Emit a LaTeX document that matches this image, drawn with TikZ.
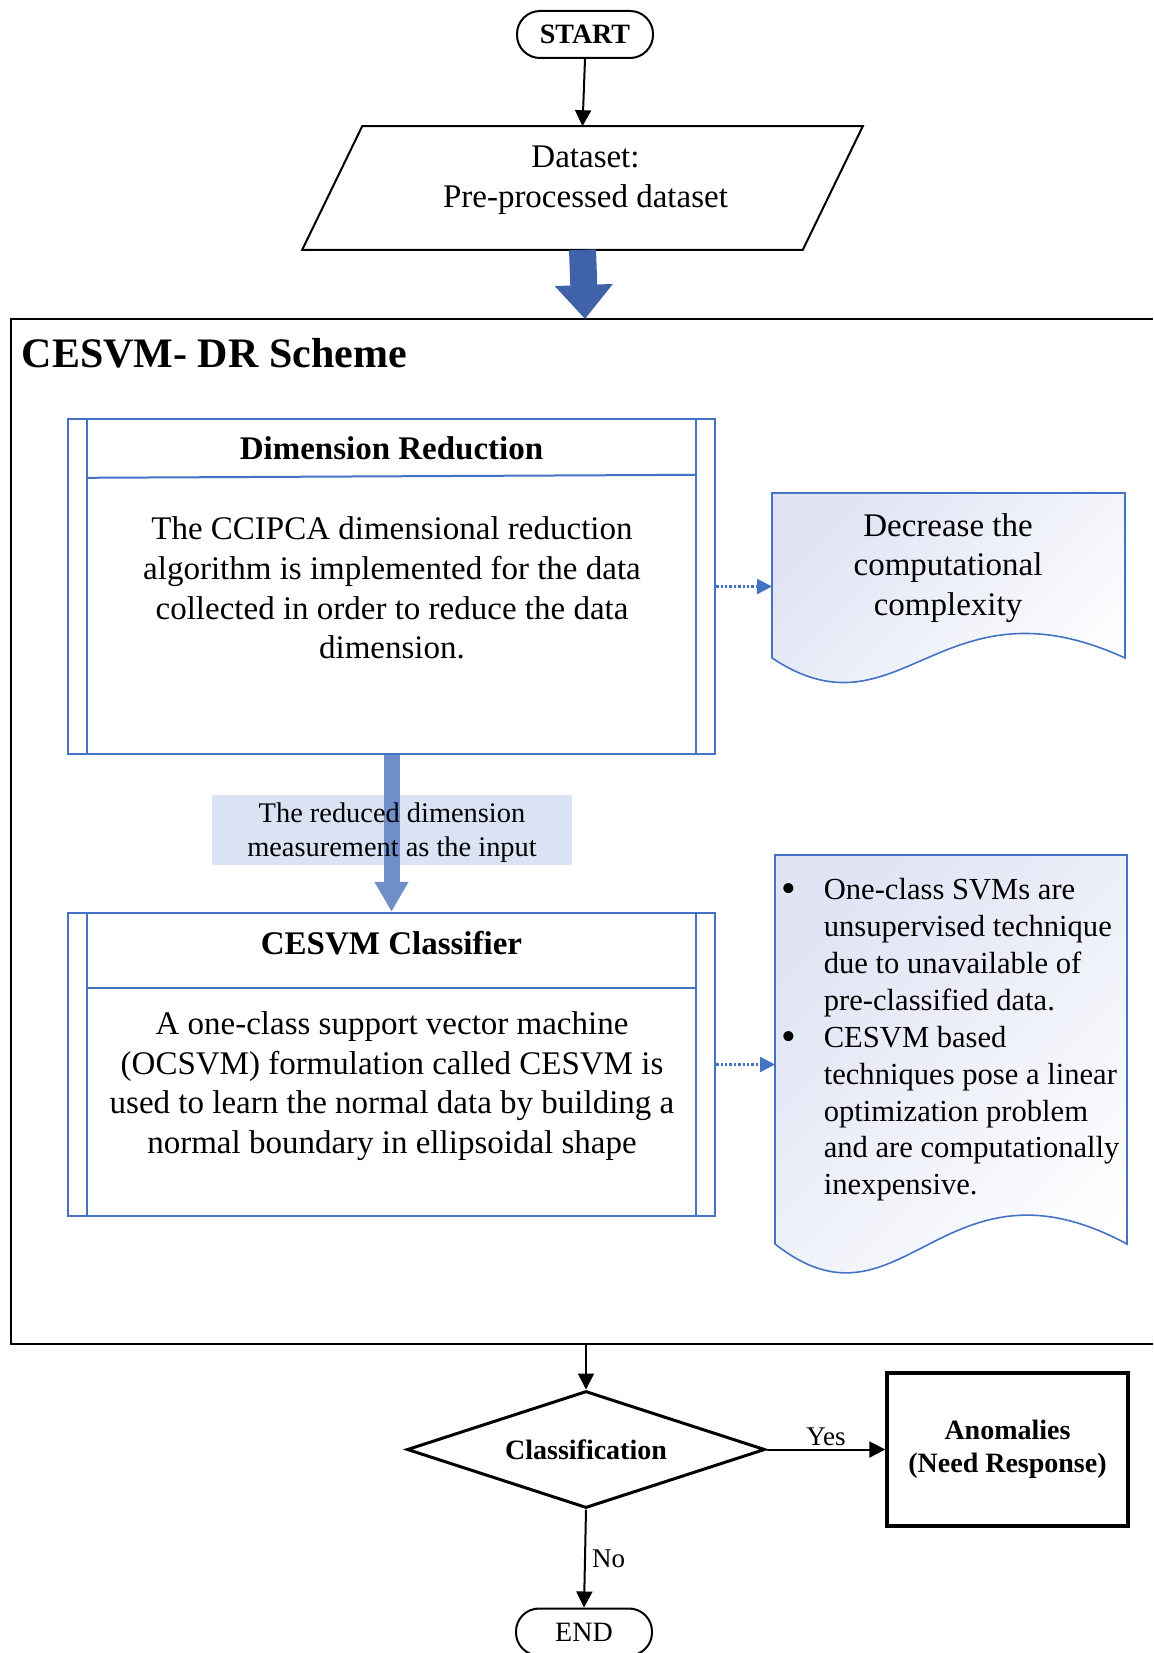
\documentclass[tikz,border=0pt]{standalone}
\usepackage{fontspec}
\setmainfont{Liberation Serif}
\usepackage{tikz}
\usetikzlibrary{shapes, arrows.meta, positioning, calc}
\definecolor{schemeblue}{RGB}{68,114,196}
\definecolor{arrowblue}{RGB}{63,98,171}
\definecolor{softblue}{RGB}{112,143,201}
\definecolor{labelfill}{RGB}{218,227,243}
\definecolor{docshade}{RGB}{224,228,244}
\tikzset{
    startstop/.style={rectangle, rounded corners=11.5pt, draw=black, line width=1pt, minimum width=68pt, minimum height=23.5pt, inner sep=0pt, font=\fontsize{14}{16}\selectfont},
    io/.style={rectangle, minimum width=279.5pt, minimum height=61pt, inner sep=0pt},
    ioline/.style={draw=black, line width=1pt},
    twinbox/.style={rectangle, draw=schemeblue, line width=1.2pt, inner sep=0pt},
    boxline/.style={draw=schemeblue, line width=1pt},
    titletext/.style={font=\bfseries\fontsize{16.5}{19.8}\selectfont},
    bodytext/.style={align=center, font=\fontsize{16.5}{19.8}\selectfont},
    lblbox/.style={rectangle, fill=labelfill, minimum width=180pt, minimum height=35pt, inner sep=0pt},
    lbltext/.style={align=center, inner sep=0pt, font=\fontsize{14.2}{17}\selectfont},
    docshape/.style={draw=schemeblue, line width=0.8pt, top color=docshade, bottom color=white, shading angle=45},
    % Flowchart Styles
    decision/.style={diamond, aspect=3, draw=black, line width=1.5pt, minimum width=179pt, minimum height=58.5pt, inner sep=0pt, font=\bfseries\fontsize{14}{16}\selectfont},
    process/.style={rectangle, draw=black, line width=1.7pt, minimum width=120.5pt, minimum height=76.5pt, align=center, font=\bfseries\fontsize{14}{16.5}\selectfont},
    arrow/.style={draw=black, line width=1pt, -{Triangle[length=8pt, width=8pt]}},
    fatarrow/.style={draw=arrowblue, line width=13.5pt, -{Triangle[length=17pt, width=28pt]}},
    midarrow/.style={draw=softblue, line width=8pt, -{Triangle[length=15pt, width=16pt]}},
    dotarrow/.style={draw=schemeblue, line width=1.2pt, densely dotted, -{Triangle[length=7.5pt, width=7.5pt]}},
    schemeframe/.style={draw=black, line width=1.2pt}
}

\begin{document}
\begin{tikzpicture}[x=0.5pt, y=-0.5pt, thick]
    \useasboundingbox (0,0) rectangle (1153,1653);

    % input
    \node (start) [startstop, font=\bfseries\fontsize{14}{16}\selectfont] at (585,34.5) {START};
    \node (data) [io] at (582.5,188) {};
    \draw [ioline] ($(data.north west)+(60,0)$) -- (data.north east) -- ($(data.south east)+(-60,0)$) -- (data.south west) -- cycle;
    \node (datatxt) [bodytext] at ($(data.center)+(3,-8)$) {Dataset:\\Pre-processed dataset};
    \draw [arrow] (start.south) -- (data.north);

    % scheme frame
    \coordinate (frametop) at (585,319);
    \coordinate (framebot) at (586,1344);
    \draw [schemeframe] (1153,319) -- (11,319) -- (11,1344) -- (1153,1344);
    \draw [fatarrow] (data.south) -- (frametop);
    \node (schemetitle) [anchor=west, inner sep=0pt, font=\bfseries\fontsize{21}{25}\selectfont] at (21,353) {CESVM- DR Scheme};

    % dimension reduction
    \node (dr) [twinbox, minimum width=323.5pt, minimum height=167.5pt] at (391.5,586.5) {};
    \draw [boxline] ($(dr.north west)+(20,0)$) -- ($(dr.south west)+(20,0)$);
    \draw [boxline] ($(dr.north east)+(-20,0)$) -- ($(dr.south east)+(-20,0)$);
    \draw [boxline] ($(dr.north west)+(20,60)$) -- ($(dr.north east)+(-20,57)$);
    \node (drtitle) [titletext] at ($(dr.north)+(0,30)$) {Dimension Reduction};
    \node (drbody) [bodytext] at (392,588) {The CCIPCA dimensional reduction\\algorithm is implemented for the data\\collected in order to reduce the data\\dimension.};

    \draw [docshape] (772,493) -- (1125,493) -- (1125,658) .. controls (940,573) and (900,743) .. (772,658) -- cycle;
    \node (decr) [bodytext] at (948,568) {Decrease the\\computational\\complexity};
    \coordinate (decrin) at (772,587);
    \draw [dotarrow] (dr.east) -- (dr.east -| decrin);

    % classifier
    \node (cesvm) [twinbox, minimum width=323.5pt, minimum height=151.5pt] at (391.5,1064.5) {};
    \draw [boxline] ($(cesvm.north west)+(20,0)$) -- ($(cesvm.south west)+(20,0)$);
    \draw [boxline] ($(cesvm.north east)+(-20,0)$) -- ($(cesvm.south east)+(-20,0)$);
    \draw [boxline] ($(cesvm.north west)+(20,76)$) -- ($(cesvm.north east)+(-20,76)$);
    \node (cesvmtitle) [titletext] at ($(cesvm.north)+(0,31)$) {CESVM Classifier};
    \node (cesvmbody) [bodytext] at (392,1086) {A one-class support vector machine\\(OCSVM) formulation called CESVM is\\used to learn the normal data by building a\\normal boundary in ellipsoidal shape};

    \node (redlbl) [lblbox] at (392,830) {};
    \draw [midarrow] (dr.south) -- (cesvm.north);
    \node (redtxt) [lbltext] at ($(redlbl.center)+(0,3)$) {The reduced dimension\\measurement as the input};

    \draw [docshape] (775,855) -- (1127,855) -- (1127,1244) .. controls (942,1144) and (902,1344) .. (775,1244) -- cycle;
    \node (notes) [anchor=north west, inner sep=0pt, font=\fontsize{15.3}{18.45}\selectfont] at (781,873) {%
        \begin{tabular}{@{}p{21pt}@{}l@{}}
        \raisebox{-1.5pt}{\fontsize{21}{18}\selectfont\textbullet} & One-class SVMs are\\
                    & unsupervised technique\\
                    & due to unavailable of\\
                    & pre-classified data.\\
        \raisebox{-1.5pt}{\fontsize{21}{18}\selectfont\textbullet} & CESVM based\\
                    & techniques pose a linear\\
                    & optimization problem\\
                    & and are computationally\\
                    & inexpensive.
        \end{tabular}};
    \coordinate (notesin) at (775,1064);
    \draw [dotarrow] (cesvm.east) -- (cesvm.east -| notesin);

    % output
    \node (classify) [decision] at (586,1449.5) {Classification};
    \draw [arrow] (framebot) -- (classify.north);
    \node (anomaly) [process] at (1007.5,1449.5) {Anomalies\\(Need Response)};
    \draw [arrow] (classify.east) -- node[above, inner sep=1.5pt, font=\fontsize{13.5}{16}\selectfont]{Yes} (anomaly.west);
    \node (finish) [startstop] at (584,1632) {END};
    \draw [arrow] (classify.south) -- node[right, inner sep=3pt, font=\fontsize{13.5}{16}\selectfont]{No} (finish.north);
\end{tikzpicture}
\end{document}
